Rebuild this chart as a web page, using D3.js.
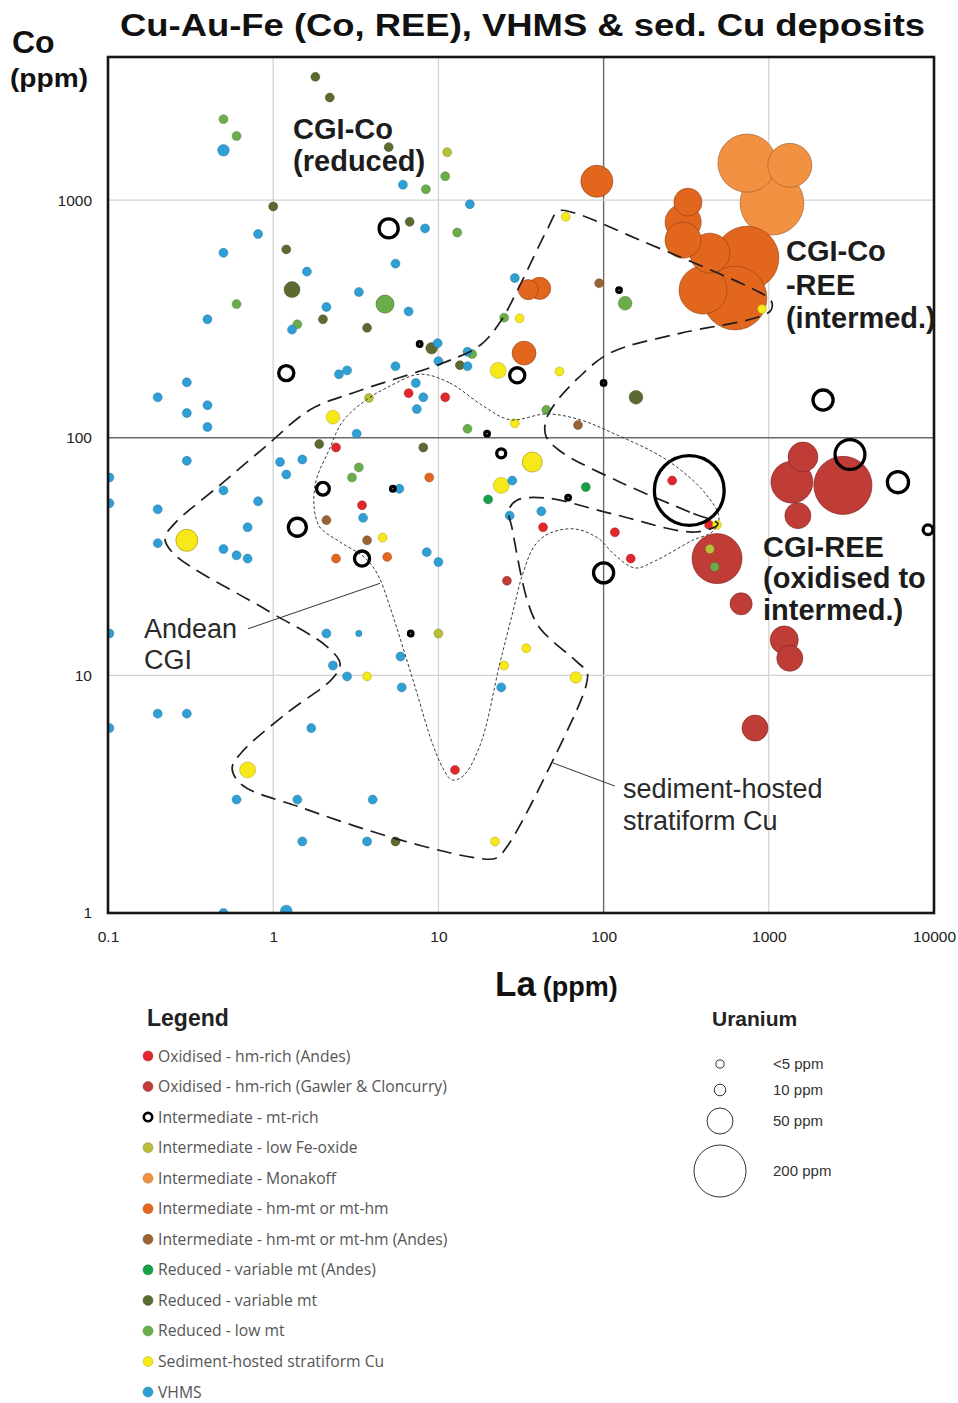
<!DOCTYPE html>
<html><head><meta charset="utf-8">
<script src="https://cdn.jsdelivr.net/npm/d3@7"></script>
<style>body{margin:0;background:#fff}svg{display:block}</style>
</head><body>
<svg id="c" width="958" height="1403"></svg>
<script>
// ---------- axis ticks ----------
const xTicks=[0.1,1,10,100,1000,10000];
const xTickLabels=["0.1","1","10","100","1000","10000"];
const yTicks=[1,10,100,1000];
const yTickLabels=["1","10","100","1000"];

// ---------- series: [La ppm, Co ppm, U ppm] ----------
const oxidisedAndes=[[6.6,154,6],[11,148,6],[2.4,91,6],[3.45,52,6],[12.6,4.0,6],[43,42,6],[117,40,6],[146,31,6],[260,66,6],[435,43,6]];
const oxidisedGawler=[[26,25,6],[486,31,185],[680,20,36],[1240,14.1,58],[1340,11.8,50],[825,6.0,50],[1610,83,66],[1380,65,130],[2810,63,250],[1500,47,50]];
const intermediateMtRich=[[5.0,760,27],[1.2,187,17],[30,183,17],[2130,144,30],[24,86,6],[2.0,61,12],[1.4,42,24],[3.45,31,17],[330,60,360],[100,27,30],[3100,85,66],[6050,65,33],[9200,41,7],[7.7,248,1.5],[19.7,104,1.5],[5.3,61,1.5],[6.8,15,1.5],[61,56,1.5],[124,418,1.5],[100,170,1.5]];
const intermediateLowFe=[[11.3,1590,6],[3.8,147,6],[10,15,6],[440,34,6]];
const intermediateMonakoff=[[738,1430,250],[1340,1400,143],[1045,970,300]];
const intermediateHmMt=[[8.8,68,6],[2.4,31,6],[4.9,31.5,6],[91,1200,76],[35,420,30],[41,425,36],[33,227,42],[324,980,58],[303,807,96],[303,678,96],[440,598,118],[738,570,300],[400,418,170],[624,387,300]];
const intermediateHmMtAndes=[[94,447,6],[70,113,6],[2.1,45,6],[3.7,37,6]];
const reducedVarAndes=[[20,55,6],[78,62,6]];
const reducedVar=[[1.8,3300,6],[2.2,2700,6],[5.0,1670,6],[1.0,940,6],[6.7,810,6],[1.2,620,6],[1.3,420,19],[2.0,315,6],[3.7,290,6],[9.1,238,10],[13.5,202,6],[1.9,94,6],[8.1,91,6],[157,148,14],[5.5,2.0,6]];
const reducedLowMt=[[0.5,2190,6],[0.6,1860,6],[11,1260,6],[8.4,1110,6],[13,730,6],[4.75,365,24],[0.6,365,6],[1.4,300,6],[16,225,6],[15,109,6],[3.3,75,6],[3.0,68,6],[25,320,6],[135,368,14],[45,131,6],[470,28.6,6]];
const sedimentCu=[[59,850,6],[31,318,6],[910,348,6],[23,192,19],[54,190,6],[29,115,6],[2.3,122,14],[37,79,30],[24,63,19],[0.3,37,36],[4.6,38,6],[3.7,9.9,6],[25,11,6],[34,13,6],[68,9.8,10],[0.7,4.0,19],[22,2.0,6],[485,43,6]];
const vhms=[[0.5,1620,10],[6.1,1160,6],[15.5,960,6],[8.3,760,6],[0.81,720,6],[0.5,600,6],[1.6,500,6],[5.5,540,6],[29,470,6],[3.3,410,6],[2.1,355,6],[6.6,340,6],[0.4,315,6],[1.3,285,6],[9.9,250,6],[10,210,6],[15,200,6],[15,230,6],[5.5,200,6],[2.5,185,6],[2.8,192,6],[7.3,170,6],[0.3,171,6],[0.2,148,6],[0.4,137,6],[0.3,127,6],[0.4,111,6],[8.1,148,6],[7.4,132,6],[3.2,104,6],[0.3,80,6],[1.1,79,6],[1.5,81,6],[1.2,70,6],[5.8,61,6],[3.5,46,6],[8.5,33,6],[10,30,6],[0.102,68,6],[0.102,53,6],[0.2,50,6],[0.5,60,6],[0.81,54,6],[0.7,42,6],[0.2,36,6],[0.5,34,6],[0.6,32,6],[0.7,31,6],[0.102,15,6],[2.1,15,6],[3.3,15,3],[5.9,12,6],[2.3,11,6],[2.8,9.9,6],[6.0,8.9,6],[24,8.9,6],[0.2,6.9,6],[0.3,6.9,6],[0.102,6.0,6],[1.7,6.0,6],[0.6,3.0,6],[1.4,3.0,6],[4.0,3.0,6],[1.5,2.0,6],[3.7,2.0,6],[0.5,1,6],[1.2,1.02,10],[28,66,6],[42,49,6],[27,47,6]];

// ---------- field outlines: [La, Co] ----------
const sedimentOutline=[[492,43.3],[333,48.6],[126,65],[54.5,87.9],[44.8,101.6],[44.8,118.6],[51.5,141],[70,178],[109,227],[290,275],[825,319],[1030,344],[1030,379],[825,418],[166,678],[64.4,889],[53,898],[46,762],[31.2,439],[23.6,306],[17.9,245],[11,208],[3.35,158],[1.67,131],[0.89,91.3],[0.476,63.2],[0.251,43.3],[0.221,37.8],[0.251,32.4],[0.916,18.8],[2.09,13.3],[2.54,11.2],[2.30,9.74],[1.21,6.94],[0.647,4.76],[0.564,4.07],[0.647,3.46],[1.45,2.79],[5.86,2.03],[17.4,1.70],[22.3,1.70],[26.4,1.93],[49.4,4.40],[78.2,9.02],[79.4,10.3],[69,11.4],[41.2,15.8],[34.8,20.3],[27.9,41.7],[26.7,49.6],[29.9,54.6],[45.4,55.7],[114,47.7],[357,40.1]];
const andeanOutline=[[7.74,185],[11.7,170],[18.4,137],[27.1,119],[45.4,126],[72,119],[114,104.5],[242,80.5],[411,58.5],[500,45.9],[453,40.1],[348,37.1],[205,30.3],[155,28.3],[117,32.1],[92.5,37.8],[67,41.3],[47.4,39.7],[38.4,35.3],[32.5,26.9],[27.9,17.9],[23.6,11.3],[17.9,5.09],[14.1,3.77],[12.1,3.63],[10.8,4.0],[9.27,5.09],[7.02,9.55],[5.09,19.4],[4.31,26.4],[3.6,31.2],[2.54,36.4],[1.92,42],[1.77,50.6],[1.82,66.3],[2.15,87],[2.61,116],[3.45,140],[5.09,165]];
const andeanCallout=[[0.703,15.7],[4.43,24.4]];
const sedimentCallout=[[49.4,4.28],[117,3.42]];

// ---------- annotation labels (anchor in La, Co) ----------
const fieldLabels=[
 {lines:["CGI-Co","(reduced)"],La:1.32,Co:1800,bold:true,lh:32},
 {lines:["CGI-Co","-REE","(intermed.)"],La:1270,Co:553,bold:true,lh:33.5},
 {lines:["CGI-REE","(oxidised to","intermed.)"],La:923,Co:31.5,bold:true,lh:31.5},
 {lines:["Andean","CGI"],La:0.165,Co:14.4,bold:false,lh:31},
 {lines:["sediment-hosted","stratiform Cu"],La:131,Co:3.05,bold:false,lh:32}
];
const uraniumLegend=[5,10,50,200];
const uraniumLabels=["<5 ppm","10 ppm","50 ppm","200 ppm"];

const categories=[
 {name:"Oxidised - hm-rich (Andes)",color:"#e1262c",data:oxidisedAndes},
 {name:"Oxidised - hm-rich (Gawler & Cloncurry)",color:"#c03d37",data:oxidisedGawler},
 {name:"Intermediate - mt-rich",color:"#000",ring:true,data:intermediateMtRich},
 {name:"Intermediate - low Fe-oxide",color:"#b9bf3a",data:intermediateLowFe},
 {name:"Intermediate - Monakoff",color:"#f39142",data:intermediateMonakoff},
 {name:"Intermediate - hm-mt or mt-hm",color:"#e3661f",data:intermediateHmMt},
 {name:"Intermediate - hm-mt or mt-hm (Andes)",color:"#9a6335",data:intermediateHmMtAndes},
 {name:"Reduced - variable mt (Andes)",color:"#16a049",data:reducedVarAndes},
 {name:"Reduced - variable mt",color:"#5a6a31",data:reducedVar},
 {name:"Reduced - low mt",color:"#69ae4b",data:reducedLowMt},
 {name:"Sediment-hosted stratiform Cu",color:"#f7e819",data:sedimentCu},
 {name:"VHMS",color:"#2ea0d5",data:vhms}
];

// ---------- layout ----------
const W=958,H=1403;
const M={l:108,r:934,t:57,b:913};
const x=d3.scaleLog().domain([0.1,10000]).range([M.l,M.r]);
const y=d3.scaleLog().domain([1,4000]).range([M.b,M.t]);
const rU=d3.scaleSqrt().domain([0,200]).range([0,26]);
const FONT="'Liberation Sans', Arial, sans-serif";

const svg=d3.select("#c");
svg.append("rect").attr("width",W).attr("height",H).attr("fill","#fff");
svg.append("defs").append("clipPath").attr("id","plotclip").append("rect")
 .attr("x",M.l).attr("y",M.t).attr("width",M.r-M.l).attr("height",M.b-M.t);

// grid
const grid=svg.append("g");
grid.selectAll("line.gx").data(xTicks.slice(1,-1)).join("line").attr("class","gx")
 .attr("x1",d=>x(d)).attr("x2",d=>x(d)).attr("y1",M.t).attr("y2",M.b)
 .attr("stroke",d=>d===100?"#6a6a6a":"#d3d3d3").attr("stroke-width",d=>d===100?1.4:1.3);
grid.selectAll("line.gy").data(yTicks.slice(1)).join("line").attr("class","gy")
 .attr("y1",d=>y(d)).attr("y2",d=>y(d)).attr("x1",M.l).attr("x2",M.r)
 .attr("stroke",d=>d===100?"#6a6a6a":"#d3d3d3").attr("stroke-width",d=>d===100?1.4:1.3);

// points
const plot=svg.append("g").attr("clip-path","url(#plotclip)");
const pts=categories.flatMap(c=>c.data.map(d=>({La:d[0],Co:d[1],U:d[2],c})));
const filled=pts.filter(p=>!p.c.ring).sort((a,b)=>b.U-a.U);
const rings=pts.filter(p=>p.c.ring).sort((a,b)=>b.U-a.U);
plot.selectAll("circle.f").data(filled).join("circle").attr("class","f")
 .attr("cx",d=>x(d.La)).attr("cy",d=>y(d.Co)).attr("r",d=>Math.max(rU(d.U),2))
 .attr("fill",d=>d.c.color)
 .attr("stroke",d=>d3.color(d.c.color).darker(1.3))
 .attr("stroke-width",d=>d.U>20?0.8:0.5).attr("stroke-opacity",0.8);

// outlines
const lin=d3.line().x(d=>x(d[0])).y(d=>y(d[1]));
const closedCurve=d3.line().x(d=>x(d[0])).y(d=>y(d[1])).curve(d3.curveCatmullRomClosed.alpha(0.5));
plot.append("path").datum(sedimentOutline).attr("d",closedCurve)
 .attr("fill","none").attr("stroke","#1e1e1e").attr("stroke-width",1.7).attr("stroke-dasharray","15,8");
plot.append("path").datum(andeanOutline).attr("d",closedCurve)
 .attr("fill","none").attr("stroke","#3a3a3a").attr("stroke-width",1).attr("stroke-dasharray","3,2.2");
[andeanCallout,sedimentCallout].forEach(cl=>{
 plot.append("path").datum(cl).attr("d",lin).attr("fill","none").attr("stroke","#333").attr("stroke-width",1);
});

plot.selectAll("circle.r").data(rings).join("circle").attr("class","r")
 .attr("cx",d=>x(d.La)).attr("cy",d=>y(d.Co)).attr("r",d=>rU(d.U))
 .attr("fill","none").attr("stroke","#000").attr("stroke-width",3.3);

// border
svg.append("rect").attr("x",M.l).attr("y",M.t).attr("width",M.r-M.l).attr("height",M.b-M.t)
 .attr("fill","none").attr("stroke","#151515").attr("stroke-width",2.6);

// axes
const xAxis=d3.axisBottom(x).tickValues(xTicks).tickFormat((d,i)=>xTickLabels[i]).tickSize(0).tickPadding(18);
const gx=svg.append("g").attr("transform",`translate(0,${M.b})`).call(xAxis);
gx.select(".domain").remove();
gx.selectAll("text").attr("font-family",FONT).attr("font-size",15.5).attr("fill","#222");
const yAxis=d3.axisLeft(y).tickValues(yTicks).tickFormat((d,i)=>yTickLabels[i]).tickSize(0).tickPadding(16);
const gy=svg.append("g").attr("transform",`translate(${M.l},0)`).call(yAxis);
gy.select(".domain").remove();
gy.selectAll("text").attr("font-family",FONT).attr("font-size",15.5).attr("fill","#222");

// titles
svg.append("text").attr("x",120).attr("y",36).attr("font-family",FONT).attr("font-weight","bold")
 .attr("font-size",31).attr("textLength",805).attr("lengthAdjust","spacingAndGlyphs").attr("fill","#111")
 .text("Cu-Au-Fe (Co, REE), VHMS & sed. Cu deposits");
svg.append("text").attr("x",12).attr("y",53).attr("font-family",FONT).attr("font-weight","bold")
 .attr("font-size",32).attr("fill","#111").text("Co");
svg.append("text").attr("x",10).attr("y",87).attr("font-family",FONT).attr("font-weight","bold")
 .attr("font-size",25).attr("textLength",78).attr("lengthAdjust","spacingAndGlyphs").attr("fill","#111").text("(ppm)");
const xt=svg.append("text").attr("x",495).attr("y",996).attr("font-family",FONT).attr("font-weight","bold").attr("fill","#111");
xt.append("tspan").attr("font-size",35).text("La");
xt.append("tspan").attr("font-size",27).attr("dx",7).text("(ppm)");

// field labels
fieldLabels.forEach(l=>{
 const t=svg.append("text").attr("font-family",FONT).attr("font-size",l.bold?29:27)
  .attr("font-weight",l.bold?"bold":"normal").attr("fill",l.bold?"#1c1c1c":"#2a2a2a");
 l.lines.forEach((s,i)=>t.append("tspan").attr("x",x(l.La)).attr("y",y(l.Co)+i*l.lh).text(s));
});

// legend
const lg=svg.append("g");
lg.append("text").attr("x",147).attr("y",1026).attr("font-family",FONT).attr("font-weight","bold")
 .attr("font-size",23).attr("fill","#222").text("Legend");
categories.forEach((c,i)=>{
 const yy=1056+i*30.55;
 if(c.ring){
  lg.append("circle").attr("cx",148).attr("cy",yy).attr("r",4.2).attr("fill","#fff").attr("stroke","#000").attr("stroke-width",2.6);
 }else{
  lg.append("circle").attr("cx",148).attr("cy",yy).attr("r",5).attr("fill",c.color)
   .attr("stroke",d3.color(c.color).darker(0.8)).attr("stroke-width",0.5);
 }
 lg.append("text").attr("x",158).attr("y",yy+5.5).attr("font-family","'Open Sans', sans-serif")
  .attr("font-size",15.7).attr("fill","#555").text(c.name);
});
const ug=svg.append("g");
ug.append("text").attr("x",712).attr("y",1026).attr("font-family",FONT).attr("font-weight","bold")
 .attr("font-size",21).attr("fill","#222").text("Uranium");
const uY=[1064,1090,1121,1171];
uraniumLegend.forEach((u,i)=>{
 ug.append("circle").attr("cx",720).attr("cy",uY[i]).attr("r",rU(u)).attr("fill","#fff").attr("stroke","#333").attr("stroke-width",1);
 ug.append("text").attr("x",773).attr("y",uY[i]+5).attr("font-family",FONT).attr("font-size",15).attr("fill","#333").text(uraniumLabels[i]);
});
</script>
</body></html>
